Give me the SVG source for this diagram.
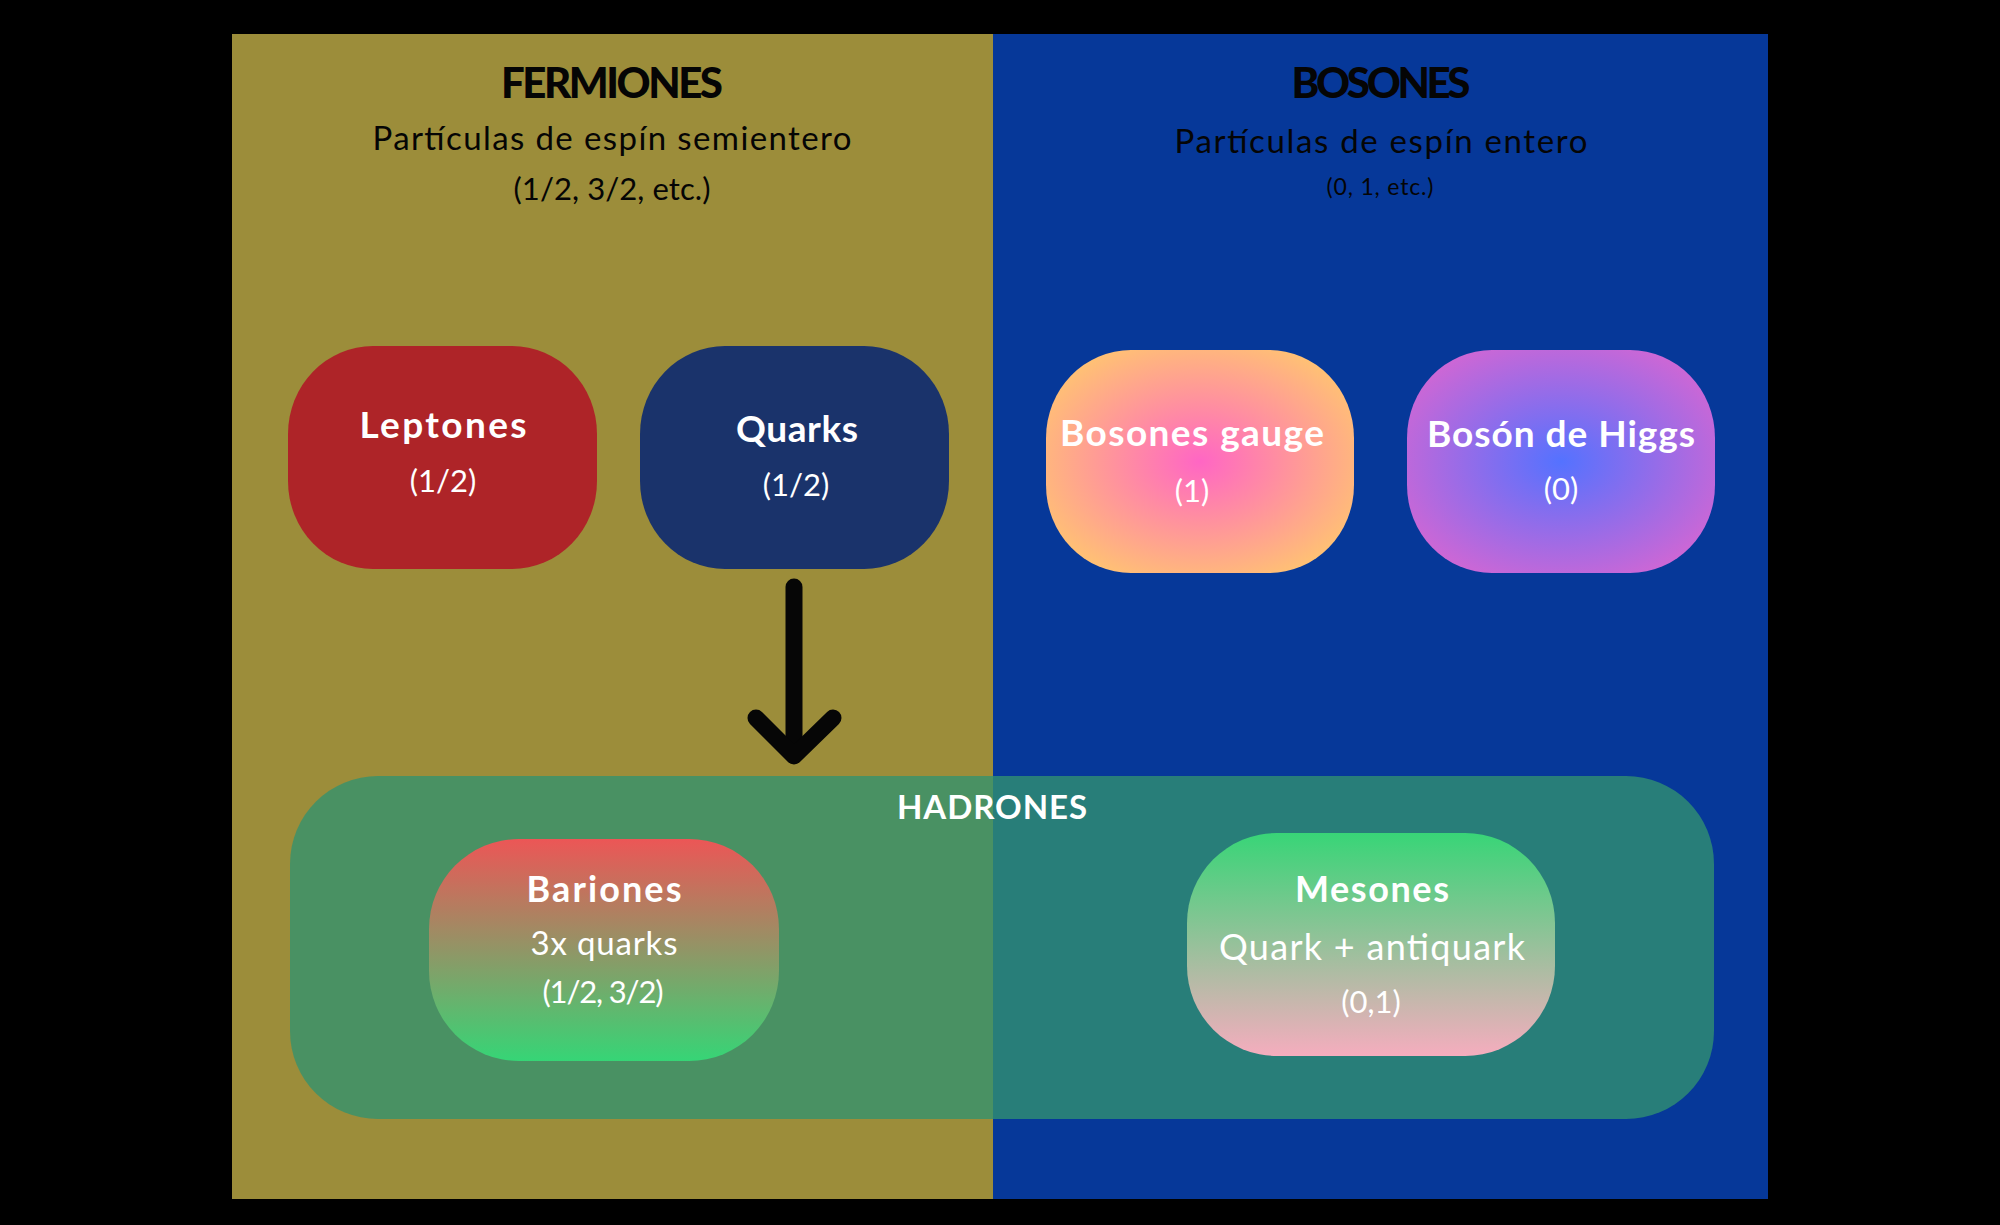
<svg xmlns="http://www.w3.org/2000/svg" width="2000" height="1225" viewBox="0 0 2000 1225">
  <defs>
    <radialGradient id="gGauge" cx="0.5" cy="0.5" r="0.62">
      <stop offset="0" stop-color="#FF66C4"/>
      <stop offset="1" stop-color="#FFC86E"/>
    </radialGradient>
    <radialGradient id="gHiggs" cx="0.5" cy="0.5" r="0.62">
      <stop offset="0" stop-color="#5472FF"/>
      <stop offset="1" stop-color="#D666D2"/>
    </radialGradient>
    <linearGradient id="gBar" x1="0" y1="0" x2="0" y2="1">
      <stop offset="0" stop-color="#EC5656"/>
      <stop offset="1" stop-color="#36D576"/>
    </linearGradient>
    <linearGradient id="gMes" x1="0" y1="0" x2="0" y2="1">
      <stop offset="0" stop-color="#38D577"/>
      <stop offset="1" stop-color="#F5ADBE"/>
    </linearGradient>
    <style>
      text { font-family: "Lato", "Noto Sans", sans-serif; text-anchor: middle; }
      .head { font-size: 42px; font-weight: 900; fill: #050505; }
      .sub { font-size: 33px; fill: #050505; }
      .title { font-size: 37px; font-weight: 700; fill: #ffffff; }
      .val { font-size: 31px; fill: #ffffff; }
    </style>
  </defs>

  <rect x="0" y="0" width="2000" height="1225" fill="#000000"/>

  <g id="panel-fermiones">
    <rect x="232" y="34" width="761" height="1165" fill="#9C8D3A"/>
    <text class="head" x="612" y="98" textLength="222">FERMIONES</text>
    <text class="sub" x="612" y="150" textLength="479">Partículas de espín semientero</text>
    <text class="sub" x="612" y="200" style="font-size:31px" textLength="197">(1/2, 3/2, etc.)</text>
  </g>

  <g id="panel-bosones">
    <rect x="993" y="34" width="775" height="1165" fill="#063899"/>
    <text class="head" x="1381" y="98" textLength="179">BOSONES</text>
    <text class="sub" x="1381" y="153" textLength="413">Partículas de espín entero</text>
    <text class="sub" x="1380" y="195" style="font-size:23px" textLength="107">(0, 1, etc.)</text>
  </g>

  <g id="node-leptones">
    <rect x="288" y="346" width="309" height="223" rx="85" ry="88" fill="#AE2428"/>
    <text class="title" x="443" y="438" textLength="167">Leptones</text>
    <text class="val" x="443" y="492">(1/2)</text>
  </g>

  <g id="node-quarks">
    <rect x="640" y="346" width="309" height="223" rx="85" ry="88" fill="#1A336B"/>
    <text class="title" x="797" y="442" textLength="122">Quarks</text>
    <text class="val" x="796" y="496">(1/2)</text>
  </g>

  <g id="node-bosones-gauge">
    <rect x="1046" y="350" width="308" height="223" rx="85" ry="88" fill="url(#gGauge)"/>
    <text class="title" x="1192" y="446" textLength="264">Bosones gauge</text>
    <text class="val" x="1192" y="502">(1)</text>
  </g>

  <g id="node-higgs">
    <rect x="1407" y="350" width="308" height="223" rx="85" ry="88" fill="url(#gHiggs)"/>
    <text class="title" x="1561" y="447" textLength="268">Bosón de Higgs</text>
    <text class="val" x="1561" y="500">(0)</text>
  </g>

  <g id="node-hadrones">
    <rect x="290" y="776" width="1424" height="343" rx="88" ry="88" fill="rgb(50,146,111)" fill-opacity="0.78"/>
    <text x="992" y="819" font-size="33" font-weight="700" fill="#ffffff" textLength="190">HADRONES</text>
  </g>

  <g id="node-bariones">
    <rect x="429" y="839" width="350" height="222" rx="90" ry="90" fill="url(#gBar)"/>
    <text class="title" x="604" y="902" style="font-size:36px" textLength="155">Bariones</text>
    <text class="val" x="604" y="955" style="font-size:33px" textLength="147">3x quarks</text>
    <text class="val" x="603" y="1003" textLength="121">(1/2, 3/2)</text>
  </g>

  <g id="node-mesones">
    <rect x="1187" y="833" width="368" height="223" rx="90" ry="90" fill="url(#gMes)"/>
    <text class="title" x="1372" y="902" style="font-size:36px" textLength="154">Mesones</text>
    <text class="val" x="1372" y="960" style="font-size:36px" textLength="306">Quark + antiquark</text>
    <text class="val" x="1371" y="1013">(0,1)</text>
  </g>

  <g id="connectors" fill="none" stroke="#060606" stroke-width="17" stroke-linecap="round" stroke-linejoin="round">
    <path d="M794 587 L794 752"/>
    <path d="M756 718 L794 756 L833 718"/>
  </g>
</svg>
